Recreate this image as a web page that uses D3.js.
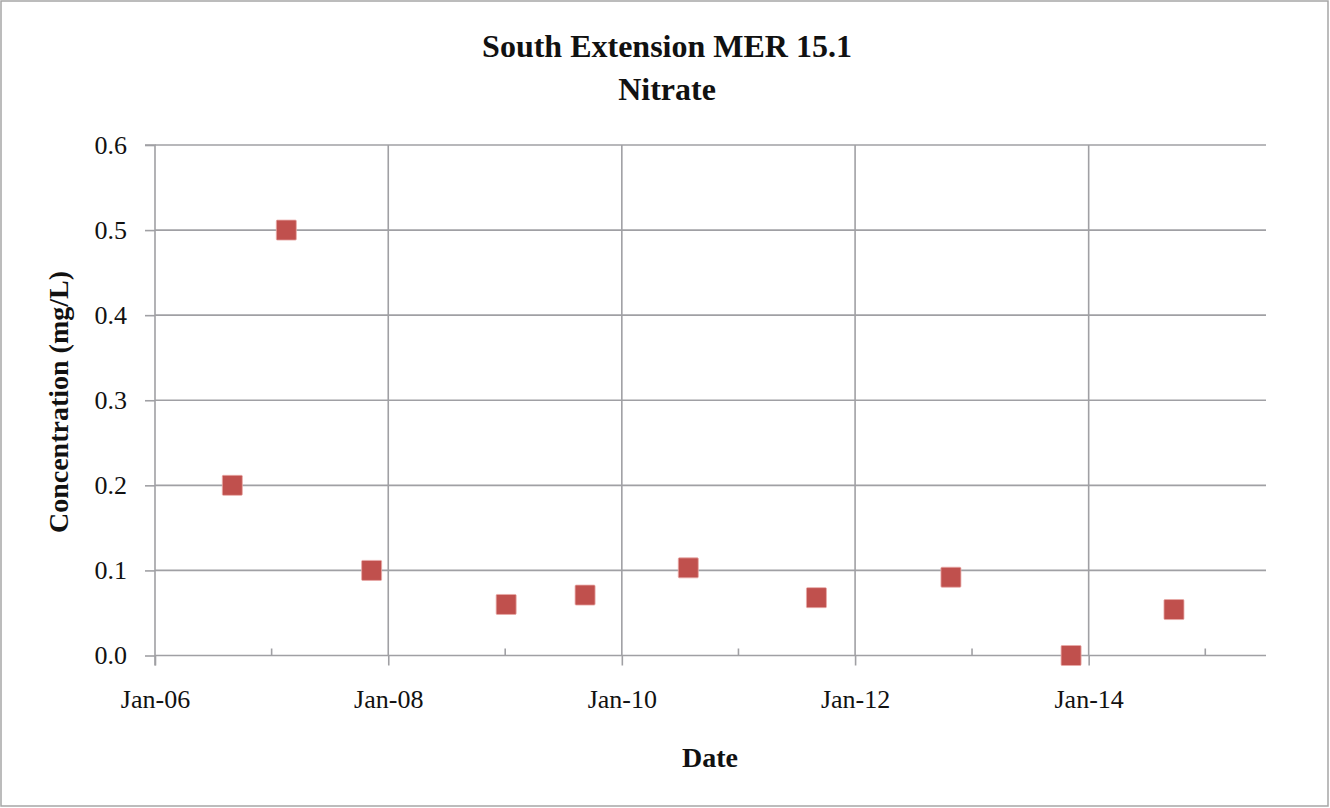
<!DOCTYPE html>
<html><head><meta charset="utf-8">
<script src="https://cdn.jsdelivr.net/npm/d3@7"></script>
<style>body{margin:0;background:#fff}svg{display:block}</style>
</head><body>
<svg id="c" width="1330" height="808"></svg>
<script>
const titleLines = ["South Extension MER 15.1", "Nitrate"];
const xTitle = "Date";
const yTitle = "Concentration (mg/L)";
const dates = ["2006-08-31","2007-02-16","2007-11-10","2009-01-04","2009-09-08","2010-07-28","2011-09-02","2012-10-27","2013-11-07","2014-09-25"];
const values = [0.2, 0.5, 0.1, 0.06, 0.071, 0.103, 0.068, 0.092, 0.0, 0.054];
const xDomain = ["2006-01-01","2015-07-10"];
const yTicks = [0, 0.1, 0.2, 0.3, 0.4, 0.5, 0.6];
const majorYears = [2006, 2008, 2010, 2012, 2014];
const minorYears = [2007, 2009, 2011, 2013, 2015];

const parse = d3.timeParse("%Y-%m-%d");
const fmt = d3.timeFormat("%b-%y");
const svg = d3.select("#c");
const L = 155, R = 1266, T = 145, B = 655.5;
const x = d3.scaleTime().domain(xDomain.map(parse)).range([L, R]);
const y = d3.scaleLinear().domain([0, 0.6]).range([B, T]);
const grid = "#a0a0a4";
const serif = "'Liberation Serif','DejaVu Serif',serif";

svg.append("rect").attr("x",1).attr("y",1).attr("width",1327).attr("height",805)
  .attr("fill","#fff").attr("stroke","#a6a6a6").attr("stroke-width",1.5);

// horizontal gridlines
svg.append("g").selectAll("line").data(yTicks.filter(d=>d>0)).join("line")
  .attr("x1",L).attr("x2",R).attr("y1",d=>y(d)).attr("y2",d=>y(d))
  .attr("stroke",grid).attr("stroke-width",1.6);
// vertical gridlines
const majorDates = majorYears.map(yr=>new Date(yr,0,1));
svg.append("g").selectAll("line").data(majorDates.slice(1)).join("line")
  .attr("x1",d=>x(d)).attr("x2",d=>x(d)).attr("y1",T).attr("y2",B)
  .attr("stroke",grid).attr("stroke-width",1.6);

// y axis
const yAxis = d3.axisLeft(y).tickValues(yTicks).tickFormat(d3.format(".1f")).tickSize(10).tickPadding(18);
const gy = svg.append("g").attr("transform",`translate(${L},0)`).call(yAxis);
gy.select(".domain").attr("stroke",grid).attr("stroke-width",1.6).attr("d",`M-10,${T}H0V${B+10}`);
gy.selectAll(".tick line").attr("stroke",grid).attr("stroke-width",1.6);
gy.selectAll(".tick text").attr("font-family",serif).attr("font-size",26).attr("fill","#111");

// x axis
const xAxis = d3.axisBottom(x).tickValues(majorDates).tickFormat(fmt).tickSize(10).tickPadding(24);
const gx = svg.append("g").attr("transform",`translate(0,${B})`).call(xAxis);
gx.select(".domain").attr("stroke",grid).attr("stroke-width",1.6).attr("d",`M${L},0H${R}`);
gx.selectAll(".tick line").attr("stroke",grid).attr("stroke-width",1.6);
gx.selectAll(".tick text").attr("font-family",serif).attr("font-size",26).attr("fill","#111");
// minor ticks (inside)
svg.append("g").selectAll("line").data(minorYears.map(yr=>new Date(yr,0,1))).join("line")
  .attr("x1",d=>x(d)).attr("x2",d=>x(d)).attr("y1",B-7).attr("y2",B)
  .attr("stroke",grid).attr("stroke-width",1.6);

// points
const pts = dates.map((d,i)=>({d:parse(d), v:values[i]}));
const s = 20;
svg.append("g").selectAll("rect").data(pts).join("rect")
  .attr("x",d=>x(d.d)-s/2).attr("y",d=>y(d.v)-s/2).attr("width",s).attr("height",s)
  .attr("rx",1).attr("fill","#c0504d").attr("stroke","#e8a9a7").attr("stroke-width",0.8);

// titles
svg.append("text").attr("x",667).attr("y",57).attr("text-anchor","middle")
  .attr("font-family",serif).attr("font-weight","bold").attr("font-size",32).attr("fill","#111").text(titleLines[0]);
svg.append("text").attr("x",667).attr("y",100).attr("text-anchor","middle")
  .attr("font-family",serif).attr("font-weight","bold").attr("font-size",32).attr("fill","#111").text(titleLines[1]);
svg.append("text").attr("x",710).attr("y",767).attr("text-anchor","middle")
  .attr("font-family",serif).attr("font-weight","bold").attr("font-size",28).attr("fill","#111").text(xTitle);
svg.append("text").attr("transform","translate(68,402) rotate(-90)").attr("text-anchor","middle")
  .attr("font-family",serif).attr("font-weight","bold").attr("font-size",28).attr("fill","#111").text(yTitle);
</script>
</body></html>
